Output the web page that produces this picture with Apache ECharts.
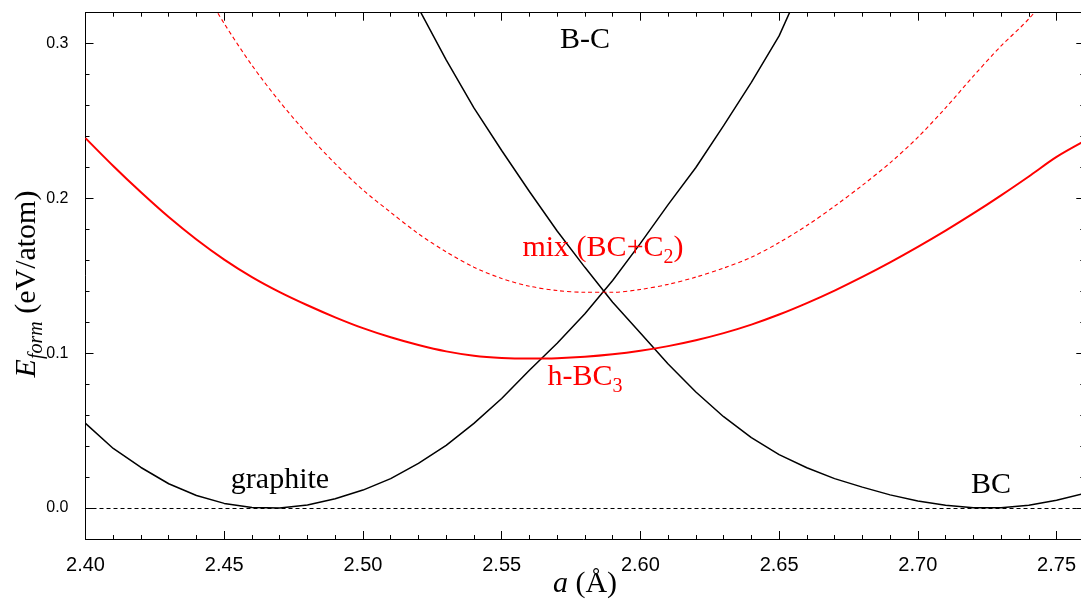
<!DOCTYPE html>
<html><head><meta charset="utf-8">
<script src="https://cdn.jsdelivr.net/npm/echarts@6/dist/echarts.min.js"></script>
<style>html,body{margin:0;padding:0;background:#fff;} #c{width:1081px;height:603px;}</style>
</head><body><div id="c"></div>
<script>
// ---- data ----
const graphiteA = [2.40,2.41,2.42,2.43,2.44,2.45,2.46,2.47,2.48,2.49,2.50,2.51,2.52,2.53,2.54,2.55,2.56,2.57,2.58,2.59,2.60,2.61,2.62,2.63,2.64,2.65,2.66];
const graphiteE = [0.0547,0.0385,0.0262,0.0157,0.0081,0.0030,0.0004,0.0000,0.0019,0.0060,0.0116,0.0190,0.0289,0.0405,0.0547,0.0708,0.0890,0.1065,0.1255,0.1470,0.1710,0.1960,0.2200,0.2470,0.2750,0.3050,0.3450];

const bcA = [2.51,2.52,2.53,2.54,2.55,2.56,2.57,2.58,2.59,2.60,2.61,2.62,2.63,2.64,2.65,2.66,2.67,2.68,2.69,2.70,2.71,2.72,2.73,2.74,2.75,2.76];
const bcE = [0.3580,0.3230,0.2895,0.2585,0.2310,0.2045,0.1790,0.1555,0.1330,0.1130,0.0930,0.0750,0.0590,0.0455,0.0345,0.0260,0.0190,0.0135,0.0085,0.0045,0.0018,0.0002,0.0002,0.0018,0.0050,0.0095];

const hbc3A = [2.40,2.41,2.42,2.43,2.44,2.45,2.46,2.47,2.48,2.49,2.50,2.51,2.52,2.53,2.54,2.55,2.56,2.57,2.58,2.59,2.60,2.61,2.62,2.63,2.64,2.65,2.66,2.67,2.68,2.69,2.70,2.71,2.72,2.73,2.74,2.75,2.76];
const hbc3E = [0.2390,0.2210,0.2040,0.1880,0.1735,0.1605,0.1492,0.1395,0.1310,0.1232,0.1162,0.1103,0.1053,0.1012,0.0984,0.0970,0.0966,0.0968,0.0977,0.0993,0.1016,0.1046,0.1084,0.1130,0.1185,0.1250,0.1324,0.1405,0.1493,0.1587,0.1687,0.1792,0.1903,0.2020,0.2142,0.2268,0.2370];

const mixA = [2.44,2.45,2.46,2.47,2.48,2.49,2.50,2.51,2.52,2.53,2.54,2.55,2.56,2.57,2.58,2.59,2.60,2.61,2.62,2.63,2.64,2.65,2.66,2.67,2.68,2.69,2.70,2.71,2.72,2.73,2.74,2.75];
const mixE = [0.3430,0.3130,0.2860,0.2625,0.2415,0.2225,0.2055,0.1910,0.1772,0.1655,0.1556,0.1483,0.1433,0.1405,0.1394,0.1394,0.1412,0.1445,0.1492,0.1550,0.1620,0.1715,0.1825,0.1950,0.2085,0.2230,0.2395,0.2585,0.2790,0.2985,0.3160,0.3380];

const yTickValues = [0, 0.1, 0.2, 0.3];
const xRange = [2.40, 2.76];
const yRange = [-0.02, 0.32];

// ---- build ----
const zip = (a, b) => a.map((v, i) => [v, b[i]]);
const SERIF = 'Liberation Serif, Times New Roman, serif';
const SANS = 'Liberation Sans, Arial, sans-serif';

const chart = echarts.init(document.getElementById('c'), null, {renderer: 'canvas'});

function xAx(pos, major, withLabel) {
  return {
    type: 'value', position: pos, min: xRange[0], max: xRange[1],
    interval: major ? 0.05 : 0.01,
    axisLine: {show: major, onZero: false, lineStyle: {color: '#000', width: 1}},
    axisTick: {show: true, inside: true, length: major ? 8 : 4, lineStyle: {color: '#000', width: 1}},
    axisLabel: {show: withLabel, margin: 16, fontSize: 20, fontFamily: SANS, color: '#000',
      formatter: v => (Math.abs(v * 20 - Math.round(v * 20)) < 1e-6 && v < 2.755) ? v.toFixed(2) : ''},
    splitLine: {show: false}
  };
}
function yAx(pos, major, withLabel) {
  const o = {
    type: 'value', position: pos, min: yRange[0], max: yRange[1],
    axisLine: {show: major, onZero: false, lineStyle: {color: '#000', width: 1}},
    axisTick: {show: true, inside: true, length: major ? 8 : 4, lineStyle: {color: '#000', width: 1}},
    axisLabel: {show: withLabel, margin: 17, fontSize: 16, fontFamily: SANS, color: '#000',
      formatter: v => v.toFixed(1)},
    splitLine: {show: false}
  };
  if (major) {
    o.axisTick.customValues = yTickValues;
    o.axisLabel.customValues = yTickValues;
  } else {
    o.interval = 0.02;
  }
  return o;
}

function label(text, x, y, color, rich, rotation) {
  return {
    type: 'text', x: x, y: y, z: 100, rotation: rotation || 0,
    style: {
      text: text, align: 'center', verticalAlign: 'middle',
      fontSize: 30, fontFamily: SERIF, fill: color,
      rich: rich || undefined
    }
  };
}
const redRich = {
  n: {fontSize: 30, fontFamily: SERIF, fill: '#ff0000', lineHeight: 40, verticalAlign: 'middle'},
  s: {fontSize: 20, fontFamily: SERIF, fill: '#ff0000', lineHeight: 24, verticalAlign: 'bottom'}
};
const titleRich = {
  e: {fontSize: 30, fontFamily: SERIF, fontStyle: 'italic', fill: '#000', lineHeight: 40, verticalAlign: 'middle'},
  f: {fontSize: 20, fontFamily: SERIF, fontStyle: 'italic', fill: '#000', lineHeight: 24, verticalAlign: 'bottom'},
  n: {fontSize: 30, fontFamily: SERIF, fill: '#000', lineHeight: 40, verticalAlign: 'middle'}
};

const option = {
  animation: false,
  backgroundColor: '#fff',
  grid: {left: 85.5, top: 12.7, width: 998.8, height: 526.3, containLabel: false, outerBoundsMode: 'none'},
  xAxis: [xAx('bottom', true, true), xAx('bottom', false, false), xAx('top', true, false), xAx('top', false, false)],
  yAxis: [yAx('left', true, true), yAx('left', false, false), yAx('right', true, false), yAx('right', false, false)],
  series: [
    {type: 'line', name: 'graphite', data: zip(graphiteA, graphiteE), showSymbol: false, clip: true,
      lineStyle: {color: '#000', width: 1.5}, itemStyle: {color: '#000'},
      markLine: {silent: true, symbol: ['none', 'none'], label: {show: false},
        lineStyle: {color: '#000', width: 1, type: [4, 3]}, data: [{yAxis: 0}]}},
    {type: 'line', name: 'BC', data: zip(bcA, bcE), showSymbol: false, clip: true,
      lineStyle: {color: '#000', width: 1.5}, itemStyle: {color: '#000'}},
    {type: 'line', name: 'h-BC3', data: zip(hbc3A, hbc3E), showSymbol: false, clip: true, smooth: 0.3,
      lineStyle: {color: '#ff0000', width: 2}, itemStyle: {color: '#ff0000'}},
    {type: 'line', name: 'mix', data: zip(mixA, mixE), showSymbol: false, clip: true, smooth: 0.3,
      lineStyle: {color: '#ff0000', width: 1.1, type: [4, 3]}, itemStyle: {color: '#ff0000'}}
  ],
  graphic: [
    label('B-C', 585, 40, '#000'),
    label('{n|mix (BC+C}{s|2}{n|)}', 603, 248, '#ff0000', redRich),
    label('{n|h-BC}{s|3}', 585, 377, '#ff0000', redRich),
    label('graphite', 280, 480, '#000'),
    label('BC', 991, 485, '#000'),
    label('{e|E}{f|form}{n| (eV/atom)}', 27, 284, '#000', titleRich, Math.PI / 2),
    label('{e|a}{n| (Å)}', 585, 584, '#000', titleRich)
  ]
};
chart.setOption(option);
</script>
</body></html>
